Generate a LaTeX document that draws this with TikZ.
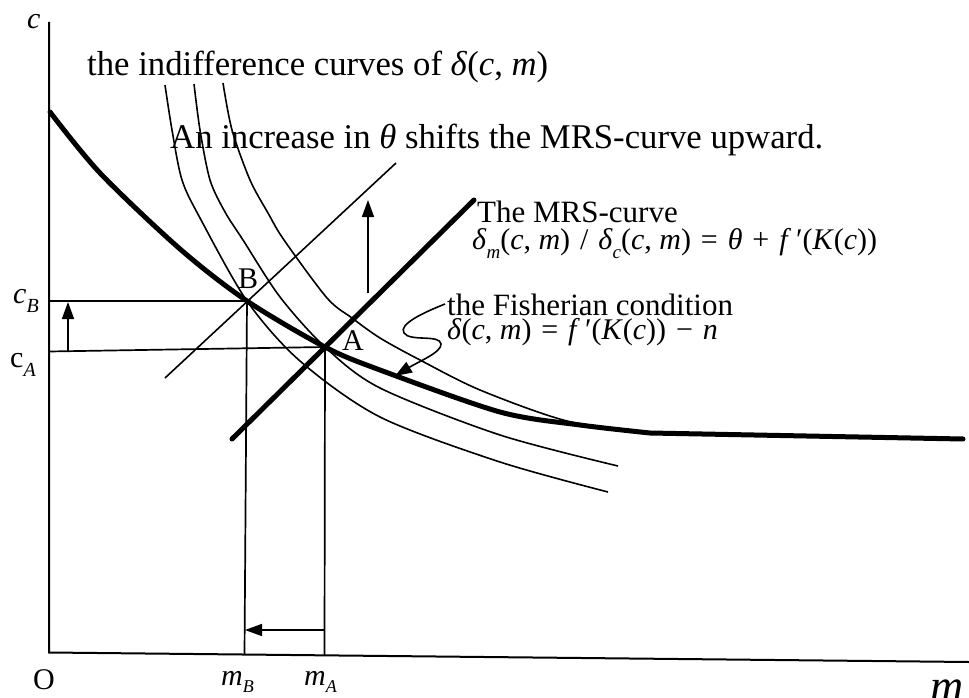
\documentclass[tikz,border=0pt]{standalone}
\usepackage{fontspec}
\setmainfont{Liberation Serif}
\usetikzlibrary{arrows.meta}
\newcommand\mi[1]{\textit{#1}}
\newcommand\fsz[1]{\fontsize{#1}{#1}\selectfont}
\newcommand\lowsub[3]{\raisebox{-#1}{\fsz{#2}#3}}
\newcommand\gap{\hspace{0.33em}}
\newcommand\cm{,\hspace{0.25em}}
\begin{document}
\begin{tikzpicture}[x=1pt,y=-1pt,
  curvethin/.style={line width=1.6pt},
  curvethick/.style={line width=5pt,line cap=round},
  axisline/.style={line width=2pt},
  guide/.style={line width=1.7pt},
  arr/.style={line width=1.6pt,-{Triangle[length=17pt,width=12pt]}},
  lbl/.style={inner sep=0pt,anchor=base west},
]
\useasboundingbox (0,0) rectangle (969,698);

% named points
\coordinate (O) at (49,652.5);
\coordinate (ctop) at (49,22);
\coordinate (mend) at (969,662);
\coordinate (B) at (247,301);
\coordinate (A) at (325,347);
\coordinate (cB) at (49,301);
\coordinate (cA) at (49,351.5);
\coordinate (mB) at (244.5,654.3);
\coordinate (mA) at (324.5,655.2);

% axes
\draw[axisline] (ctop) -- (O) -- (mend);

% guides
\draw[guide] (cB) -- (B) -- (mB);
\draw[guide] (cA) -- (A) -- (mA);

% indifference curves
\draw[curvethin] plot[smooth] coordinates {(165,85) (172,130) (182,180) (200,218) (247,301) (300,361) (380,417) (500,462) (608,492)};
\draw[curvethin] plot[smooth] coordinates {(194,84) (200,130) (210,180) (225,212) (243,240) (280,297) (325,347) (380,388) (500,435) (618,466)};
\draw[curvethin] plot[smooth] coordinates {(223,83) (232,130) (250,180) (268,213) (284,240) (327,298) (352,318) (380,338) (420,360) (480,390) (567,421) (648,432)};

% Fisherian curve
\draw[curvethick] plot[smooth] coordinates {(50,112) (100,173) (180,249) (247,301) (325,347) (380,370) (500,412) (580,425) (650,433)} -- (963,439);

% MRS lines
\coordinate (mrs1) at (232,439);
\coordinate (mrs2) at (474,200);
\draw[curvethick] (mrs1) -- (mrs2);
\coordinate (mrsb1) at (165,378);
\coordinate (mrsb2) at (396,163);
\draw[curvethin] (mrsb1) -- (mrsb2);

% arrows
\coordinate (ua1) at (68,351);
\coordinate (ua2) at (68,302);
\draw[arr] (ua1) -- (ua2);
\coordinate (la1) at (324.5,630);
\coordinate (la2) at (245,630);
\draw[arr] (la1) -- (la2);
\coordinate (sa1) at (368,293);
\coordinate (sa2) at (368,200);
\draw[arr] (sa1) -- (sa2);

% texts
\node[lbl] (t1) at (87,76) {\fsz{34.7}the indifference curves of \mi{δ}(\mi{c}\cm\mi{m})};
\node[lbl] (t2) at (170,149) {\fsz{34.7}An increase in \mi{θ} shifts the MRS-curve upward.};
\node[lbl] (t3) at (477,222) {\fsz{31}The MRS-curve};
\node[lbl] (t4) at (472,249) {\fsz{30}\mi{δ}\lowsub{9pt}{19}{\mi{m}}(\mi{c}\cm\mi{m})\gap/\gap\mi{δ}\lowsub{9pt}{19}{\mi{c}}(\mi{c}\cm\mi{m})\gap=\gap\mi{θ}\gap+\gap\mi{f}\,′(\mi{K}(\mi{c}))};
\node[lbl] (t5) at (447,315) {\fsz{31}the Fisherian condition};
\node[lbl] (t6) at (447,339) {\fsz{30}\mi{δ}(\mi{c}\cm\mi{m})\gap=\gap\mi{f}\,′(\mi{K}(\mi{c}))\gap−\gap\mi{n}};

\coordinate (fa0) at (445,304);
\draw[line width=1.6pt,-{Triangle[length=17pt,width=12pt]}] (fa0) .. controls (425,312) and (398,324) .. (404,333) .. controls (410,342) and (440,334) .. (441,344) .. controls (442,352) and (418,362) .. (395,376);

% axis labels
\node[lbl] (lc) at (27,29) {\fsz{30}\mi{c}};
\node[lbl] (lcB) at (13,303) {\fsz{30}\mi{c}\lowsub{9pt}{20}{\mi{B}}};
\node[lbl] (lcA) at (10,367) {\fsz{30}c\lowsub{9pt}{20}{\mi{A}}};
\node[lbl] (lO) at (33,689) {\fsz{30}O};
\node[lbl] (lmB) at (221,685) {\fsz{30}\mi{m}\lowsub{7pt}{18}{\mi{B}}};
\node[lbl] (lmA) at (304,685) {\fsz{30}\mi{m}\lowsub{7pt}{18}{\mi{A}}};
\node[lbl] (lm) at (930,701) {\fsz{46}\mi{m}};
\node[lbl] (lB) at (238,288) {\fsz{30}B};
\node[lbl] (lA) at (342,350) {\fsz{30}A};
\end{tikzpicture}
\end{document}
